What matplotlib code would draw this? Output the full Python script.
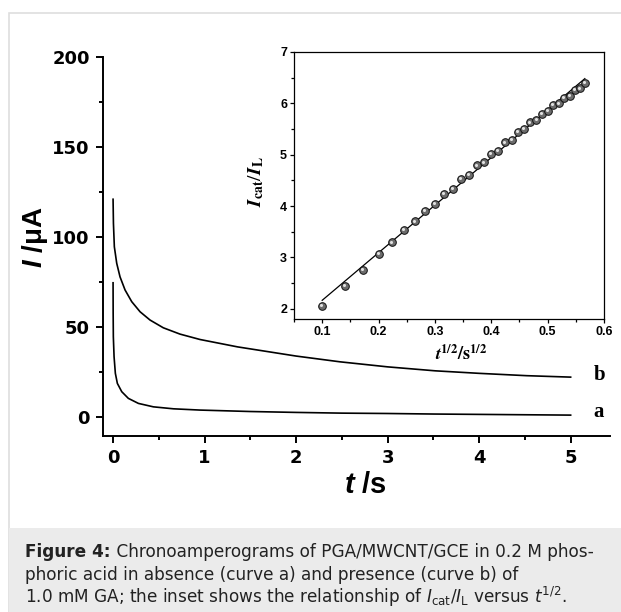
import numpy as np
import matplotlib
matplotlib.use('Agg')
from matplotlib import pyplot as plt
from matplotlib import transforms
from matplotlib.patches import Rectangle
from matplotlib.ticker import MultipleLocator

# chronoamperograms: curve a (blank), curve b (1.0 mM GA)
time_a = [0.0, 0.001, 0.003, 0.011, 0.025, 0.047, 0.095, 0.167, 0.277, 0.44,
          0.66, 0.95, 1.5, 2.0, 2.5, 3.0, 3.5, 4.0, 4.5, 5.0]
current_a = [74.6, 57.6, 44.6, 33.5, 24.3, 18.7, 14.1, 10.4, 7.6, 5.7,
             4.6, 3.9, 3.1, 2.6, 2.2, 2.0, 1.7, 1.5, 1.3, 1.1]
time_b = [0.0, 0.004, 0.014, 0.04, 0.076, 0.131, 0.204, 0.295, 0.404, 0.549,
          0.731, 0.95, 1.36, 2.0, 2.48, 3.0, 3.52, 4.0, 4.52, 5.0]
current_b = [121, 107.6, 94.6, 85.4, 77.9, 70.6, 64.1, 58.5, 53.9, 49.6,
             46.1, 43.1, 39.0, 33.9, 30.7, 27.9, 25.7, 24.3, 23.0, 22.2]

# inset: Icat/IL against t^1/2
sqrt_t = [0.100, 0.141, 0.173, 0.200, 0.224, 0.245, 0.265, 0.283, 0.300, 0.316,
          0.332, 0.346, 0.361, 0.374, 0.387, 0.400, 0.412, 0.424, 0.436, 0.447,
          0.458, 0.469, 0.480, 0.490, 0.500, 0.510, 0.520, 0.529, 0.539, 0.548,
          0.557, 0.566]
ratio = [2.06, 2.45, 2.76, 3.07, 3.29, 3.53, 3.70, 3.91, 4.04, 4.24,
         4.34, 4.53, 4.61, 4.79, 4.85, 5.02, 5.08, 5.24, 5.29, 5.44,
         5.50, 5.63, 5.67, 5.80, 5.85, 5.97, 6.00, 6.11, 6.15, 6.26,
         6.29, 6.39]

x_ticks = [0, 1, 2, 3, 4, 5]
y_ticks = [0, 50, 100, 150, 200]
inset_x_ticks = [0.1, 0.2, 0.3, 0.4, 0.5, 0.6]
inset_y_ticks = [2, 3, 4, 5, 6, 7]

caption_head = 'Figure 4:'
caption = [
    ' Chronoamperograms of PGA/MWCNT/GCE in 0.2 M phos-',
    'phoric acid in absence (curve a) and presence (curve b) of',
    r'1.0 mM GA; the inset shows the relationship of '
    r'$\mathit{I}_{\mathrm{cat}}/\mathit{I}_{\mathrm{L}}$ versus $\mathit{t}^{\mathrm{1/2}}$.',
]

plt.rcParams['font.family'] = ['Liberation Sans', 'DejaVu Sans']
plt.rcParams['mathtext.fontset'] = 'custom'
plt.rcParams['mathtext.rm'] = 'Liberation Sans'
plt.rcParams['mathtext.it'] = 'Liberation Sans:italic'
plt.rcParams['mathtext.bf'] = 'Liberation Sans:bold'
plt.rcParams['mathtext.bfit'] = 'Liberation Sans:italic:bold'

W, H = 621, 612
fig = plt.figure(figsize=(W / 100, H / 100), dpi=100)

# page frame and caption box
fig.patches.append(Rectangle((9 / W, -0.1), 1.2, 1 - 13 / H + 0.1, transform=fig.transFigure,
                             facecolor='none', edgecolor='#dedede', lw=1.2))
fig.patches.append(Rectangle((9 / W, -0.1), 1.2, 0.1 + 84 / H, transform=fig.transFigure,
                             facecolor='#ebebeb', edgecolor='none'))
cap_font = dict(family='DejaVu Sans', fontsize=12.2, color='#222222')
line_y = [557, 580, 603]
head = fig.text(25 / W, 1 - line_y[0] / H, caption_head, fontweight='bold', va='baseline',
                **cap_font)
for i in (1, 2):
    fig.text(25 / W, 1 - line_y[i] / H, caption[i], va='baseline',
             math_fontfamily='dejavusans', **cap_font)

# main chart
ax = fig.add_axes([103 / W, 1 - 436 / H, 507 / W, 379 / H])
ax.plot(time_a, current_a, color='k', lw=1.2)
ax.plot(time_b, current_b, color='k', lw=1.2)
ax.text(5.25, 23.5, 'b', family='Liberation Serif', fontweight='bold', fontsize=15, va='center')
ax.text(5.25, 3.0, 'a', family='Liberation Serif', fontweight='bold', fontsize=15, va='center')
ax.set_xlim(-0.11, 5.43)
ax.set_ylim(-10.5, 200)
ax.set_xticks(x_ticks)
ax.set_yticks(y_ticks)
ax.xaxis.set_minor_locator(MultipleLocator(0.5))
ax.yaxis.set_minor_locator(MultipleLocator(25))
for side in ['top', 'right']:
    ax.spines[side].set_visible(False)
for side in ['left', 'bottom']:
    ax.spines[side].set_linewidth(1.4)
ax.tick_params(which='major', direction='out', length=5, width=1.4, labelsize=13, pad=4.5)
ax.tick_params(which='minor', direction='out', length=3, width=1.4)
for lab in ax.get_xticklabels() + ax.get_yticklabels():
    lab.set_fontweight('bold')
    lab.set_family('DejaVu Sans')
ax.set_ylabel(r'$\mathbfit{I}$ /μA', fontsize=20, fontweight='bold')
ax.yaxis.set_label_coords(-0.105, 0.525)
ax.set_xlabel(r'$\mathbfit{t}$ /s', fontsize=21, fontweight='bold')
ax.xaxis.set_label_coords(0.517, -0.093)

# inset with linear fit
axins = fig.add_axes([294 / W, 1 - 319 / H, 310 / W, 267 / H])
coef = np.polyfit(sqrt_t, ratio, 1)
xs = np.array([sqrt_t[0], sqrt_t[-1]])
axins.plot(xs, np.polyval(coef, xs), color='k', lw=0.9)
axins.plot(sqrt_t, ratio, 'o', ms=5.5, mfc='#6c6c6c', mec='#111111', mew=0.7)
shine = transforms.offset_copy(axins.transData, fig=fig, x=-0.6, y=0.6, units='points')
axins.plot(sqrt_t, ratio, 'o', ms=2.2, mfc='#e2e2e2', mec='none', transform=shine)
axins.set_xlim(0.05, 0.6)
axins.set_ylim(1.8, 7)
axins.set_xticks(inset_x_ticks)
axins.set_yticks(inset_y_ticks)
axins.xaxis.set_minor_locator(MultipleLocator(0.05))
axins.yaxis.set_minor_locator(MultipleLocator(0.5))
for sp in axins.spines.values():
    sp.set_linewidth(0.9)
axins.tick_params(which='major', direction='out', length=3, width=0.9, labelsize=9, pad=2)
axins.tick_params(which='minor', direction='out', length=2, width=0.9)
for lab in axins.get_xticklabels() + axins.get_yticklabels():
    lab.set_fontweight('bold')
axins.set_ylabel(r'$\mathbfit{I}_{\mathbf{cat}}/\mathbfit{I}_{\mathbf{L}}$', fontsize=14,
                 math_fontfamily='stix')
axins.yaxis.set_label_coords(-0.09, 0.513)
axins.set_xlabel(r'$\mathbfit{t}^{\mathbf{1/2}}\mathbf{/s}^{\mathbf{1/2}}$', fontsize=13,
                 math_fontfamily='stix')
axins.xaxis.set_label_coords(0.539, -0.095)

# rest of the first caption line follows the bold head
fig.canvas.draw()
bb = head.get_window_extent()
fig.text(bb.x1 / W, 1 - line_y[0] / H, caption[0], va='baseline', **cap_font)

fig.savefig('out.png', dpi=100)
